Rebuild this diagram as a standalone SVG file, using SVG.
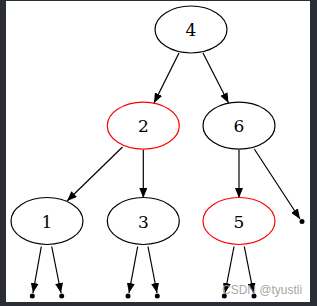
<svg xmlns="http://www.w3.org/2000/svg" width="317" height="306" viewBox="0 0 317 306">
<defs>
<style>
.n ellipse{fill:none;stroke:#000;stroke-width:1.2}
.n.red ellipse{stroke:#ff0000}
.n text{font-family:"DejaVu Serif","Liberation Serif",serif;font-size:17px;text-anchor:middle;fill:#000}
.e line{stroke:#000;stroke-width:1.2;marker-end:url(#ah)}
.p{fill:#000}
</style>
<marker id="ah" markerUnits="userSpaceOnUse" markerWidth="10" markerHeight="8" refX="10" refY="4" orient="auto">
<path d="M0,0 L10,4 L0,8 z" fill="#000"/>
</marker>
</defs>
<rect width="317" height="306" fill="#2b2e36"/>
<rect x="6" y="1" width="304" height="301" fill="#fff"/>
<g id="edges" class="e">
<line x1="179" y1="53" x2="154" y2="103"/>
<line x1="203" y1="53" x2="228.5" y2="103"/>
<line x1="122.5" y1="147" x2="67" y2="201"/>
<line x1="143.3" y1="150" x2="143.3" y2="198"/>
<line x1="239" y1="150" x2="239" y2="198"/>
<line x1="254.3" y1="149" x2="300" y2="219"/>
<line x1="41.3" y1="246.5" x2="33" y2="293"/>
<line x1="51.7" y1="246.5" x2="61" y2="293"/>
<line x1="137.7" y1="246.5" x2="129" y2="293"/>
<line x1="148" y1="246.5" x2="157" y2="293"/>
<line x1="234" y1="246.5" x2="225" y2="293"/>
<line x1="244.3" y1="246.5" x2="253.5" y2="293"/>
</g>
<g id="n4" class="n"><ellipse cx="191" cy="29.5" rx="36" ry="23.5"/><text x="191" y="35.7">4</text></g>
<g id="n2" class="n red"><ellipse cx="143.3" cy="125.7" rx="36" ry="23.5"/><text x="143.3" y="131.8">2</text></g>
<g id="n6" class="n"><ellipse cx="239" cy="125.7" rx="36" ry="23.5"/><text x="239" y="131.8">6</text></g>
<g id="n1" class="n"><ellipse cx="47" cy="221" rx="36" ry="23.5"/><text x="47" y="227.5">1</text></g>
<g id="n3" class="n"><ellipse cx="143.3" cy="221" rx="36" ry="23.5"/><text x="143.3" y="227.5">3</text></g>
<g id="n5" class="n red"><ellipse cx="239" cy="221" rx="36" ry="23.5"/><text x="239" y="227.5">5</text></g>
<g id="nil6"><circle class="p" cx="302" cy="221.5" r="2.5"/></g>
<g id="nil1a"><circle class="p" cx="32.3" cy="296" r="2.5"/></g>
<g id="nil1b"><circle class="p" cx="61.7" cy="296" r="2.5"/></g>
<g id="nil3a"><circle class="p" cx="128" cy="296" r="2.5"/></g>
<g id="nil3b"><circle class="p" cx="157.3" cy="296" r="2.5"/></g>
<g id="nil5a"><circle class="p" cx="224.3" cy="296" r="2.5"/></g>
<g id="nil5b"><circle class="p" cx="254" cy="296" r="2.5"/></g>
<text x="222" y="294" font-family="Liberation Sans, Arial, sans-serif" font-size="12" fill="#9a9a9a" fill-opacity="0.9">CSDN @tyustli</text>
</svg>
